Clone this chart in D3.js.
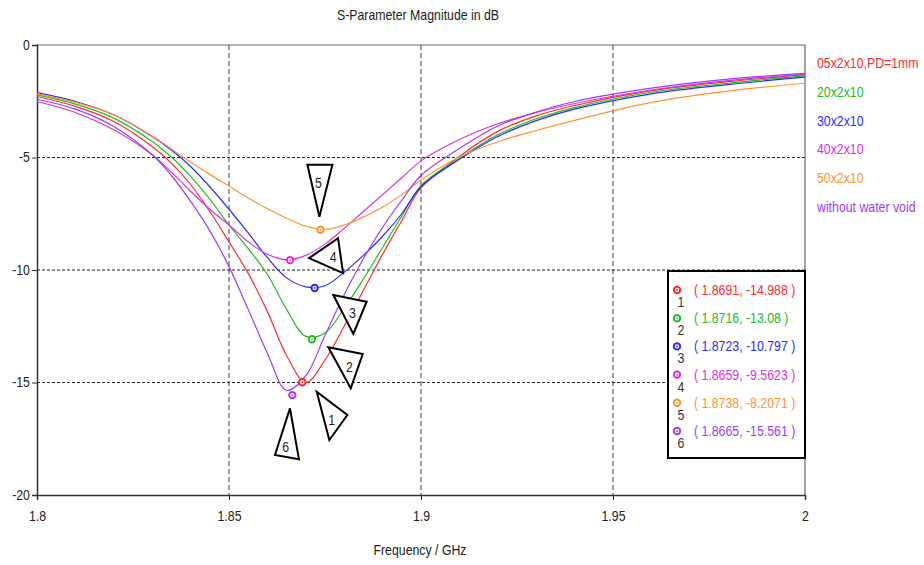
<!DOCTYPE html>
<html>
<head>
<meta charset="utf-8">
<script src="https://cdn.jsdelivr.net/npm/d3@7"></script>
<style>
  body { margin: 0; background: #fff; }
  text { font-family: "Liberation Sans", Arial, sans-serif; font-size: 14px; }
</style>
</head>
<body>
<script>
var freq = [1.80, 1.81, 1.82, 1.83, 1.835, 1.84, 1.845, 1.85, 1.855, 1.86, 1.865, 1.87, 1.875,
            1.88, 1.885, 1.89, 1.895, 1.90, 1.91, 1.92, 1.93, 1.94, 1.96, 1.98, 2.00];

var s05 = [-2.29, -2.73, -3.40, -4.51, -5.25, -6.2, -7.4, -8.75, -10.15, -11.85, -13.8, -15.0, -14.0,
           -12.5, -10.9, -9.3, -7.8, -6.35, -4.95, -3.84, -3.15, -2.69, -2.03, -1.63, -1.32];
var s20 = [-2.22, -2.63, -3.25, -4.29, -4.98, -5.84, -6.85, -8.0, -9.05, -10.2, -11.75, -12.95, -12.8,
           -11.7, -10.4, -9.0, -7.6, -6.25, -5.03, -3.99, -3.28, -2.78, -2.10, -1.70, -1.37];
var s30 = [-2.12, -2.51, -3.10, -4.07, -4.67, -5.4, -6.3, -7.3, -8.35, -9.45, -10.35, -10.75, -10.7,
           -10.1, -9.35, -8.5, -7.5, -6.3, -5.08, -4.07, -3.36, -2.85, -2.17, -1.76, -1.43];
var s40 = [-2.51, -3.00, -3.77, -4.88, -5.65, -6.5, -7.3, -8.0, -8.75, -9.3, -9.55, -9.35, -8.85,
           -8.15, -7.4, -6.65, -5.9, -5.15, -4.2, -3.5, -3.0, -2.6, -2.00, -1.58, -1.30];
var s50 = [-2.17, -2.55, -3.10, -4.05, -4.62, -5.2, -5.75, -6.27, -6.8, -7.28, -7.7, -8.05, -8.2,
           -8.0, -7.65, -7.2, -6.65, -6.0, -4.98, -4.30, -3.80, -3.35, -2.55, -2.05, -1.70];
var sNoVoid = [-2.41, -2.85, -3.62, -4.88, -5.8, -6.95, -8.25, -9.85, -11.75, -13.7, -15.35, -14.7, -12.9,
               -11.1, -9.5, -8.1, -6.9, -5.8, -4.6, -3.6, -2.98, -2.51, -1.92, -1.52, -1.26];

var seriesNames = ["05x2x10,PD=1mm", "20x2x10", "30x2x10", "40x2x10", "50x2x10", "without water void"];
var seriesValues = [s05, s20, s30, s40, s50, sNoVoid];
var colors = ["#ff2a2a", "#22bb22", "#2b2bff", "#e02ee0", "#ff9433", "#9a3cff"];

var markerFreq = [1.8691, 1.8716, 1.8723, 1.8659, 1.8738, 1.8665];
var markerVal = [-14.988, -13.08, -10.797, -9.5623, -8.2071, -15.561];
var markerText = ["( 1.8691, -14.988 )", "( 1.8716, -13.08 )", "( 1.8723, -10.797 )",
                  "( 1.8659, -9.5623 )", "( 1.8738, -8.2071 )", "( 1.8665, -15.561 )"];

var xTicks = [1.8, 1.85, 1.9, 1.95, 2];
var yTicks = [0, -5, -10, -15, -20];

var width = 924, height = 565;
var plot = { left: 37, right: 805, top: 45, bottom: 495 };
var squeeze = 0.88;   // the original uses a narrow UI font

var svg = d3.select('body').append('svg')
  .attr('width', width)
  .attr('height', height);

var x = d3.scaleLinear().domain([1.8, 2]).range([plot.left, plot.right]);
var y = d3.scaleLinear().domain([0, -20]).range([plot.top, plot.bottom]);

// text placed with a horizontal squeeze
function addText(g, tx, ty, str, color, anchor) {
  return g.append('text')
    .attr('transform', 'translate(' + tx + ',' + ty + ') scale(' + squeeze + ',1)')
    .attr('text-anchor', anchor || 'start')
    .attr('fill', color || '#222')
    .text(str);
}

// title
addText(svg, 418, 20, 'S-Parameter Magnitude in dB', '#222', 'middle');

// grid
svg.append('g').selectAll('line')
  .data(xTicks.slice(1, -1))
  .enter().append('line')
  .attr('x1', function(d) { return x(d); })
  .attr('x2', function(d) { return x(d); })
  .attr('y1', plot.top).attr('y2', plot.bottom)
  .attr('stroke', '#808080')
  .attr('stroke-width', 1.5)
  .attr('stroke-dasharray', '5,3');

svg.append('g').selectAll('line')
  .data(yTicks.slice(1, -1))
  .enter().append('line')
  .attr('x1', plot.left).attr('x2', plot.right)
  .attr('y1', function(d) { return y(d); })
  .attr('y2', function(d) { return y(d); })
  .attr('stroke', '#222')
  .attr('stroke-width', 1.2)
  .attr('stroke-dasharray', '3,2');

// frame (top / right)
svg.append('path')
  .attr('d', 'M' + plot.left + ',' + plot.top + 'H' + plot.right + 'V' + plot.bottom)
  .attr('fill', 'none')
  .attr('stroke', '#666')
  .attr('stroke-width', 1.2);

// axes
var leftAxis = d3.axisLeft(y).tickValues(yTicks).tickSize(5).tickPadding(3)
  .tickFormat(function(d) { return String(d); });
var bottomAxis = d3.axisBottom(x).tickValues(xTicks).tickSize(5).tickPadding(11)
  .tickFormat(function(d) { return String(d); });

var leftAxisNodes = svg.append('g')
  .attr('transform', 'translate(' + plot.left + ',0)')
  .call(leftAxis);
var bottomAxisNodes = svg.append('g')
  .attr('transform', 'translate(0,' + plot.bottom + ')')
  .call(bottomAxis);

styleAxisNodes(leftAxisNodes);
styleAxisNodes(bottomAxisNodes);

addText(svg, 420, 555, 'Frequency / GHz', '#222', 'middle');

// curves
var line = d3.line()
  .x(function(d) { return x(d[0]); })
  .y(function(d) { return y(d[1]); })
  .curve(d3.curveCatmullRom.alpha(0.5));

var curves = svg.append('g');
seriesValues.forEach(function(vals, i) {
  curves.append('path')
    .datum(freq.map(function(f, j) { return [f, vals[j]]; }))
    .attr('d', line)
    .attr('fill', 'none')
    .attr('stroke', colors[i])
    .attr('stroke-width', 1.2);
});

// legend on the right
var legend = svg.append('g');
seriesNames.forEach(function(name, i) {
  addText(legend, 817, 68 + i * 28.8, name, colors[i]);
});

// callout triangles, placed relative to their marker (pixel offsets)
var callouts = [
  { pts: [[14.4, 9.5], [45, 32.8], [27, 57.8]], label: [29.4, 37.8] },
  { pts: [[16.4, 8], [50.8, 14.7], [38.8, 49]], label: [37.4, 27.4] },
  { pts: [[18.7, 7.1], [52, 13.8], [38.7, 46]], label: [37.7, 25.4] },
  { pts: [[19, -2], [48, -22], [53, 13]], label: [43, -3.5] },
  { pts: [[-13, -65], [12, -65], [-1, -13]], label: [-2, -47] },
  { pts: [[-2.4, 13.2], [-17.4, 59.9], [6.6, 64.2]], label: [-6.7, 51.6] }
];

var callG = svg.append('g');
markerFreq.forEach(function(f, i) {
  var mx = x(f), my = y(markerVal[i]);
  var c = callouts[i];
  callG.append('path')
    .attr('d', 'M' + c.pts.map(function(p) { return (mx + p[0]) + ',' + (my + p[1]); }).join('L') + 'Z')
    .attr('fill', '#fff')
    .attr('stroke', '#000')
    .attr('stroke-width', 2);
  addText(callG, mx + c.label[0], my + c.label[1] + 5, i + 1, '#222', 'middle');
});

// markers on curves
function drawMarker(g, cx, cy, color) {
  g.append('circle').attr('cx', cx).attr('cy', cy).attr('r', 3.2)
    .attr('fill', '#fff').attr('stroke', color).attr('stroke-width', 2);
  g.append('circle').attr('cx', cx).attr('cy', cy).attr('r', 0.9)
    .attr('fill', color);
}

var markG = svg.append('g');
markerFreq.forEach(function(f, i) {
  drawMarker(markG, x(f), y(markerVal[i]), colors[i]);
});

// marker readout box
var box = svg.append('g');
box.append('rect')
  .attr('x', 668).attr('y', 271)
  .attr('width', 137).attr('height', 187)
  .attr('fill', '#fff')
  .attr('stroke', '#000')
  .attr('stroke-width', 2);

markerText.forEach(function(t, i) {
  var cy = 290 + i * 28.2;
  drawMarker(box, 677, cy, colors[i]);
  addText(box, 681, cy + 17, i + 1, '#333', 'middle');
  addText(box, 694, cy + 5, t, colors[i]);
});

function styleAxisNodes(axisNodes) {
  axisNodes.selectAll('.domain')
    .attr('stroke', '#333')
    .attr('stroke-width', 1.5);
  axisNodes.selectAll('.tick line')
    .attr('stroke', '#333')
    .attr('stroke-width', 1);
  axisNodes.selectAll('.tick text')
    .attr('transform', 'scale(' + squeeze + ',1)')
    .style('font-family', '"Liberation Sans", Arial, sans-serif')
    .style('font-size', '14px')
    .attr('fill', '#222');
}
</script>
</body>
</html>
